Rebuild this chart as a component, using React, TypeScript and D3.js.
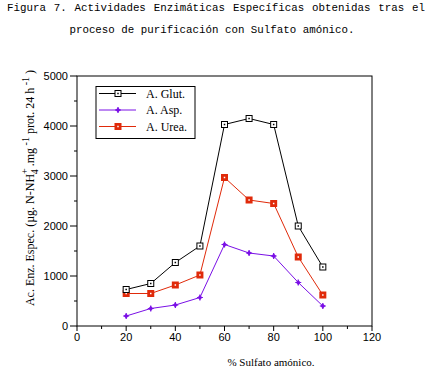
import React from "react";
import * as d3 from "d3";

const xValues = [20, 30, 40, 50, 60, 70, 80, 90, 100];
const glut = [730, 850, 1270, 1600, 4030, 4150, 4030, 2000, 1180];
const asp = [200, 350, 420, 570, 1630, 1460, 1400, 870, 400];
const urea = [650, 650, 820, 1020, 2970, 2520, 2450, 1380, 620];
const xTicks = [0, 20, 40, 60, 80, 100, 120];
const yTicks = [0, 1000, 2000, 3000, 4000, 5000];
const titleLine1 = ["Figura", "7.", "Actividades", "Enzimáticas", "Específicas", "obtenidas", "tras", "el"];
const titleLine2 = "proceso de purificación con Sulfato amónico.";
const legendLabels = ["A. Glut.", "A. Asp.", "A. Urea."];

const W = 433, H = 382;
const PL = 77, PR = 372, PT = 76, PB = 326;
const PURPLE = "#7a10e6";
const RED = "#e02a0a";

export default function App() {
  const x = d3.scaleLinear().domain([0, 120]).range([PL, PR]);
  const y = d3.scaleLinear().domain([0, 5000]).range([PB, PT]);
  const line = d3.line<number>().x((_, i) => x(xValues[i])).y((d) => y(d));

  const serif = "'Liberation Serif', 'Times New Roman', serif";
  const sans = "'Liberation Sans', Arial, sans-serif";
  const mono = "'Liberation Mono', 'Courier New', monospace";

  const charW = 6.48;
  const tx0 = 7, tx1 = 425;
  const totalChars = titleLine1.reduce((a, w) => a + w.length, 0);
  const gap = (tx1 - tx0 - totalChars * charW) / (titleLine1.length - 1);
  let cx = tx0;
  const wordPos = titleLine1.map((w) => {
    const p = cx;
    cx += w.length * charW + gap;
    return p;
  });

  const minorX = d3.range(10, 120, 20);
  const minorY = d3.range(500, 5000, 1000);

  const glutMarker = (px: number, py: number, k: string) => (
    <g key={k}>
      <rect x={px - 3} y={py - 3} width={6} height={6} fill="white" stroke="black" strokeWidth={1} />
      <rect x={px - 0.75} y={py - 0.75} width={1.5} height={1.5} fill="black" />
    </g>
  );
  const aspMarker = (px: number, py: number, k: string) => (
    <g key={k}>
      <path d={`M${px - 2.5},${py} L${px},${py - 2.5} L${px + 2.5},${py} L${px},${py + 2.5} Z`} fill={PURPLE} />
      <path d={`M${px - 3},${py} H${px + 3} M${px},${py - 3} V${py + 3}`} stroke={PURPLE} strokeWidth={1.2} />
    </g>
  );
  const ureaMarker = (px: number, py: number, k: string) => (
    <g key={k}>
      <rect x={px - 3.5} y={py - 3.5} width={7} height={7} fill={RED} />
      <rect x={px - 0.75} y={py - 0.75} width={1.5} height={1.5} fill="white" />
    </g>
  );

  const series = [
    { data: glut, color: "black", marker: glutMarker },
    { data: asp, color: PURPLE, marker: aspMarker },
    { data: urea, color: RED, marker: ureaMarker },
  ];
  const drawOrder = [1, 2, 0];

  const legY = [93.5, 110, 126.5];

  return (
    <svg width={W} height={H} style={{ position: "absolute", left: 0, top: 0, background: "white" }}>
      <rect x={0} y={0} width={W} height={H} fill="white" />
      {titleLine1.map((w, i) => (
        <text key={w} x={wordPos[i]} y={11} fontFamily={mono} fontSize={10.8} fill="black">
          {w}
        </text>
      ))}
      <text x={212} y={33} textAnchor="middle" fontFamily={mono} fontSize={10.8} fill="black">
        {titleLine2}
      </text>

      <rect x={PL} y={PT} width={PR - PL} height={PB - PT} fill="none" stroke="black" strokeWidth={1} />

      {xTicks.map((t) => (
        <g key={"xt" + t}>
          <line x1={x(t)} x2={x(t)} y1={PB} y2={PB + 5} stroke="black" />
          <text x={x(t)} y={PB + 15} textAnchor="middle" fontFamily={sans} fontSize={11}>
            {t}
          </text>
        </g>
      ))}
      {minorX.map((t) => (
        <line key={"xm" + t} x1={x(t)} x2={x(t)} y1={PB} y2={PB + 3} stroke="black" />
      ))}
      {yTicks.map((t) => (
        <g key={"yt" + t}>
          <line x1={PL - 7} x2={PL} y1={y(t)} y2={y(t)} stroke="black" />
          <text x={PL - 9} y={y(t) + 4} textAnchor="end" fontFamily={sans} fontSize={11}>
            {t}
          </text>
        </g>
      ))}
      {minorY.map((t) => (
        <line key={"ym" + t} x1={PL - 3} x2={PL} y1={y(t)} y2={y(t)} stroke="black" />
      ))}

      {drawOrder.map((si) => {
        const s = series[si];
        return (
          <g key={"s" + si}>
            <path d={line(s.data) || ""} fill="none" stroke={s.color} strokeWidth={1} />
            {s.data.map((v, i) => s.marker(x(xValues[i]), y(v), `m${si}-${i}`))}
          </g>
        );
      })}

      <rect x={96} y={86.5} width={99} height={52} fill="white" stroke="black" strokeWidth={1} />
      {series.map((s, i) => (
        <g key={"lg" + i}>
          <line x1={99} x2={136} y1={legY[i]} y2={legY[i]} stroke={s.color} strokeWidth={1} />
          {s.marker(118, legY[i], "lm" + i)}
          <text x={146} y={legY[i] + 4} fontFamily={serif} fontSize={12}>
            {legendLabels[i]}
          </text>
        </g>
      ))}

      <text x={271} y={366} textAnchor="middle" fontFamily={serif} fontSize={11}>
        % Sulfato amónico.
      </text>

      <text transform={`translate(34,188) rotate(-90)`} textAnchor="middle" fontFamily={serif} fontSize={12}>
        Ac. Enz. Espec. (µg. N-NH
        <tspan dy={-6} fontSize={10}>+</tspan>
        <tspan dx={-6} dy={10} fontSize={10}>4</tspan>
        <tspan dy={-4}> .mg</tspan>
        <tspan dy={-5} fontSize={10}> -1</tspan>
        <tspan dy={5}> prot. 24 h</tspan>
        <tspan dy={-5} fontSize={10}> -1</tspan>
        <tspan dy={5}> )</tspan>
      </text>
    </svg>
  );
}
